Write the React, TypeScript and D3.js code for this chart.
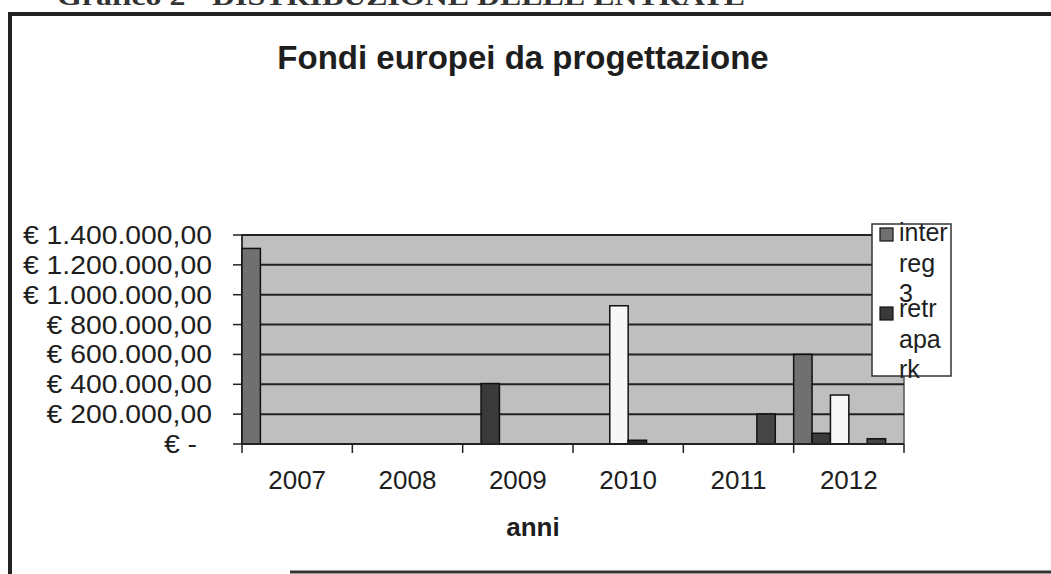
import React from 'react';
import * as d3 from 'd3';

// data
const anni = ['2007', '2008', '2009', '2010', '2011', '2012'];
const interreg3 = [1310000, 0, 0, 0, 0, 600000];
const retrapark = [0, 0, 405000, 0, 0, 72000];
const serie3 = [0, 0, 0, 926000, 0, 328000];
const serie4 = [0, 0, 0, 25000, 0, 0];
const serie5 = [0, 0, 0, 0, 201000, 35000];
const yTicks = [0, 200000, 400000, 600000, 800000, 1000000, 1200000, 1400000];
const legendLines = [
  ['inter', 'reg', '3'],
  ['retr', 'apa', 'rk'],
];

const series = [interreg3, retrapark, serie3, serie4, serie5];
const fills = ['#707070', '#3a3a3a', '#f7f7f7', '#2e2e2e', '#454545'];

const W = 1051;
const H = 574;
const plot = { left: 242, right: 904, top: 235, bottom: 444 };

const fmtEuro = (v: number) => {
  if (v === 0) return '€ -';
  const s = d3.format(',.2f')(v).replace(/,/g, 'X').replace('.', ',').replace(/X/g, '.');
  return '€ ' + s;
};

export default function App() {
  const x0 = d3.scaleBand().domain(anni).range([plot.left, plot.right]).padding(0);
  // six slots per year, the last one stays empty like in the original
  const x1 = d3.scaleBand<number>().domain(d3.range(6)).range([0, x0.bandwidth()]).padding(0);
  const y = d3.scaleLinear().domain([0, 1400000]).range([plot.bottom, plot.top]);

  const boundaries = d3.range(anni.length + 1).map(i => plot.left + i * x0.bandwidth());
  const textCol = '#1e1e1e';

  return (
    <svg width={W} height={H} style={{ position: 'absolute', left: 0, top: 0, background: '#fff' }}
      fontFamily="'Liberation Sans', Arial, sans-serif">
      {/* caption cut off at the top of the scan */}
      <text x={57} y={5} fontFamily="'Liberation Serif', serif" fontWeight="bold" fontSize={26}
        fill="#333" textLength={688} lengthAdjust="spacingAndGlyphs">
        Grafico 2 - DISTRIBUZIONE DELLE ENTRATE
      </text>
      {/* frame */}
      <line x1={10} x2={W} y1={14} y2={14} stroke="#222" strokeWidth={4} />
      <line x1={10} x2={10} y1={12} y2={H} stroke="#222" strokeWidth={4} />
      <line x1={290} x2={W} y1={572} y2={572} stroke="#333" strokeWidth={3} />

      <text x={523} y={69} textAnchor="middle" fontWeight="bold" fontSize={33} fill={textCol}>
        Fondi europei da progettazione
      </text>

      <rect x={plot.left} y={plot.top} width={plot.right - plot.left} height={plot.bottom - plot.top}
        fill="#bfbfbf" stroke="#555" strokeWidth={1.5} />
      {yTicks.map(t => (
        <g key={t}>
          <line x1={plot.left} x2={plot.right} y1={y(t)} y2={y(t)} stroke="#222" strokeWidth={2} />
          <line x1={233} x2={plot.left} y1={y(t)} y2={y(t)} stroke="#222" strokeWidth={1.5} />
          <text transform={`translate(${t === 0 ? 197 : 212},${y(t) + 9}) scale(1.09,1)`}
            textAnchor="end" fontSize={26} fill={textCol}>{fmtEuro(t)}</text>
        </g>
      ))}
      <line x1={plot.left} x2={plot.left} y1={plot.top} y2={plot.bottom} stroke="#222" strokeWidth={1.5} />

      {series.map((vals, si) =>
        vals.map((v, ci) => v > 0 ? (
          <rect key={`${si}-${ci}`} x={(x0(anni[ci]) ?? 0) + (x1(si) ?? 0)} y={y(v)}
            width={x1.bandwidth()} height={y(0) - y(v)}
            fill={fills[si]} stroke="#111" strokeWidth={1.5} />
        ) : null)
      )}

      {boundaries.map((b, i) => (
        <line key={i} x1={b} x2={b} y1={plot.bottom} y2={plot.bottom + 9} stroke="#222" strokeWidth={1.5} />
      ))}
      <line x1={plot.left} x2={plot.right} y1={plot.bottom} y2={plot.bottom} stroke="#222" strokeWidth={2} />

      {anni.map(a => (
        <text key={a} x={(x0(a) ?? 0) + x0.bandwidth() / 2} y={489} textAnchor="middle"
          fontSize={26} fill={textCol}>{a}</text>
      ))}
      <text x={533} y={536} textAnchor="middle" fontWeight="bold" fontSize={26} fill={textCol}>anni</text>

      {/* legend, text overflowing like the original */}
      <rect x={872} y={224} width={79} height={152} fill="#fff" stroke="#333" strokeWidth={1.5} />
      {legendLines.map((lines, li) => (
        <g key={li}>
          <rect x={880} y={li === 0 ? 228 : 307} width={13} height={13}
            fill={fills[li]} stroke="#111" strokeWidth={1.2} />
          {lines.map((s, k) => (
            <text key={k} x={899} y={(li === 0 ? 241 : 317) + k * 30.5} fontSize={25} fill={textCol}>{s}</text>
          ))}
        </g>
      ))}
    </svg>
  );
}
